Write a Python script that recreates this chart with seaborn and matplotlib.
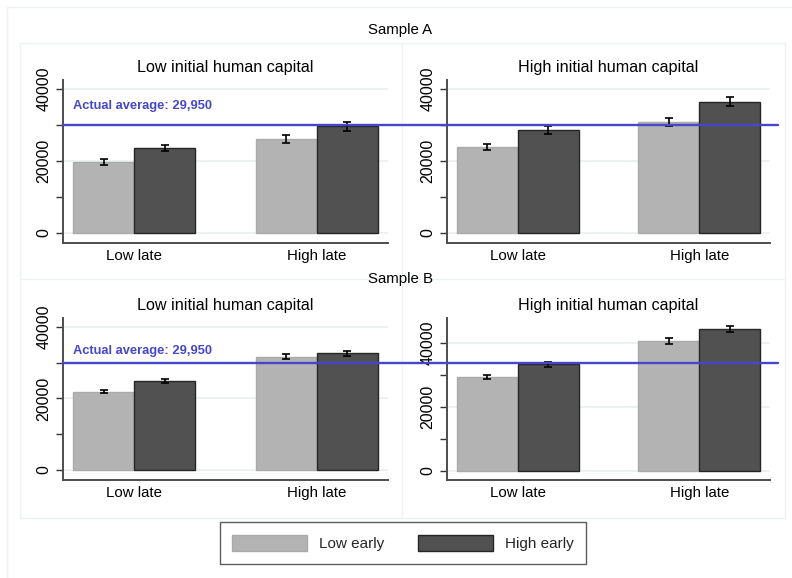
import numpy as np
import pandas as pd
import matplotlib
matplotlib.use("Agg")
import matplotlib.pyplot as plt
import seaborn as sns
from matplotlib.patches import Patch
from matplotlib.lines import Line2D

# ---- data -------------------------------------------------------------
late_levels = ["Low late", "High late"]
early_levels = ["Low early", "High early"]
panel_titles = ["Low initial human capital", "High initial human capital"]
sample_names = ["Sample A", "Sample B"]

# order: (Low late, Low early), (Low late, High early), (High late, Low early), (High late, High early)
a_low_means = [19800, 23600, 26100, 29600]
a_low_err = [800, 950, 1000, 1150]
a_high_means = [23900, 28600, 30800, 36500]
a_high_err = [900, 1050, 1200, 1350]
b_low_means = [21900, 24900, 31600, 32700]
b_low_err = [450, 600, 700, 700]
b_high_means = [29200, 33150, 40500, 44200]
b_high_err = [600, 650, 800, 900]

actual_average = 29950
average_label = "Actual average: 29,950"

# ---- style ------------------------------------------------------------
sns.set_theme(style="white")
plt.rcParams["font.family"] = ["Liberation Sans", "DejaVu Sans"]

LIGHT = "#b3b3b3"
DARK = "#515151"
BLUE = "#4646cc"
FRAME = "#edf2f2"
GRID = "#e9f0f0"

W, H = 792, 578
fig = plt.figure(figsize=(W / 100, H / 100), dpi=100)
fig.patch.set_facecolor("white")


def px_axes(x0, y0, x1, y1):
    return fig.add_axes([x0 / W, 1 - y1 / H, (x1 - x0) / W, (y1 - y0) / H])


def fig_line(x0, y0, x1, y1, **kw):
    fig.add_artist(Line2D([x0 / W, x1 / W], [1 - y0 / H, 1 - y1 / H],
                          transform=fig.transFigure, **kw))


# faint outlines of the combined graph regions
fig_line(7, 7, W, 7, color=FRAME, lw=1)
fig_line(7, 7, 7, H, color=FRAME, lw=1)
fig_line(20, 43, 785, 43, color=FRAME, lw=1)
fig_line(20, 518, 785, 518, color=FRAME, lw=1)
fig_line(20, 43, 20, 518, color=FRAME, lw=1)
fig_line(785, 43, 785, 518, color=FRAME, lw=1)
fig_line(20, 279, 785, 279, color=FRAME, lw=1)
fig_line(402, 43, 402, 518, color=FRAME, lw=1)

panels = [
    [(a_low_means, a_low_err, (-2800, 42500)), (a_high_means, a_high_err, (-2800, 42500))],
    [(b_low_means, b_low_err, (-2800, 42500)), (b_high_means, b_high_err, (-2900, 47660))],
]
row_y = [(80, 243), (318, 480)]
col_x = [(63, 388), (447, 770)]
sample_title_y = [30, 279]

for r, row in enumerate(panels):
    row_axes = []
    for c, (means, errs, ylim) in enumerate(row):
        ax = px_axes(col_x[c][0], row_y[r][0], col_x[c][1], row_y[r][1])
        row_axes.append(ax)
        df = pd.DataFrame({
            "late": [late_levels[0]] * 2 + [late_levels[1]] * 2,
            "early": early_levels * 2,
            "value": means,
        })
        sns.barplot(data=df, x="late", y="value", hue="early",
                    order=late_levels, hue_order=early_levels,
                    palette=[LIGHT, DARK], saturation=1, width=0.67,
                    errorbar=None, legend=False, ax=ax, zorder=2)
        edge_cols = ["#aaaaaa", "#262626"]
        bar_containers = list(ax.containers)
        for i, cont in enumerate(bar_containers):
            for j, bar in enumerate(cont):
                bar.set_edgecolor(edge_cols[i])
                bar.set_linewidth(1.0)
                k = j * 2 + i
                ax.errorbar(bar.get_x() + bar.get_width() / 2, means[k],
                            yerr=errs[k], fmt="none", ecolor="black",
                            elinewidth=1.2, capsize=2.9, capthick=1.2, zorder=4)
        ax.set_ylim(*ylim)
        ax.set_xlim(-0.39, 1.39)
        ax.set_yticks([0, 20000, 40000])
        ax.set_yticks([10000, 30000], minor=True)
        ax.set_yticklabels(["0", "20000", "40000"], rotation=90, va="center")
        ax.tick_params(axis="y", which="both", length=5, width=1.0,
                       color="#333333", direction="out", left=True, pad=3.5,
                       labelsize=11.5, labelcolor="black")
        ax.tick_params(axis="x", length=0, pad=4, labelsize=10.8, labelcolor="black")
        ax.set_xlabel("")
        ax.set_ylabel("")
        ax.set_axisbelow(True)
        ax.yaxis.grid(True, which="major", color=GRID, lw=1.2)
        ax.xaxis.grid(False)
        for s in ["top", "right"]:
            ax.spines[s].set_visible(False)
        for s in ["left", "bottom"]:
            ax.spines[s].set_color("#4d4d4d")
            ax.spines[s].set_linewidth(1.4)
        ax.set_title(panel_titles[c], fontsize=11.6, pad=5.5, color="black")

    # reference line for the actual average, spanning both panels of the row
    ax_left = row_axes[0]
    fig.canvas.draw()
    y_disp = ax_left.transData.transform((0, actual_average))[1]
    y_px = H - y_disp
    fig_line(col_x[0][0], y_px, 778, y_px, color=BLUE, lw=1.7, zorder=5)
    first_bar = ax_left.containers[0][0]
    ax_left.text(first_bar.get_x(), actual_average + (5350 if r == 0 else 3300),
                 average_label, color=BLUE, fontsize=9.3, fontweight="bold",
                 ha="left", va="center", zorder=6)

    fig.text(400 / W, 1 - sample_title_y[r] / H, sample_names[r],
             ha="center", va="center", fontsize=10.8, color="black")

handles = [Patch(facecolor=LIGHT, edgecolor="#aaaaaa", label=early_levels[0]),
           Patch(facecolor=DARK, edgecolor="#262626", label=early_levels[1])]
leg = fig.legend(handles=handles, loc="center", ncol=2,
                 bbox_to_anchor=(403 / W, 1 - 543 / H), frameon=True,
                 fancybox=False, fontsize=11, handlelength=4.9,
                 handleheight=1.3, handletextpad=0.8, columnspacing=2.2,
                 borderpad=0.8)
leg.get_frame().set_edgecolor("#333333")
leg.get_frame().set_linewidth(1.0)

fig.savefig("out.png", dpi=100, facecolor="white")
